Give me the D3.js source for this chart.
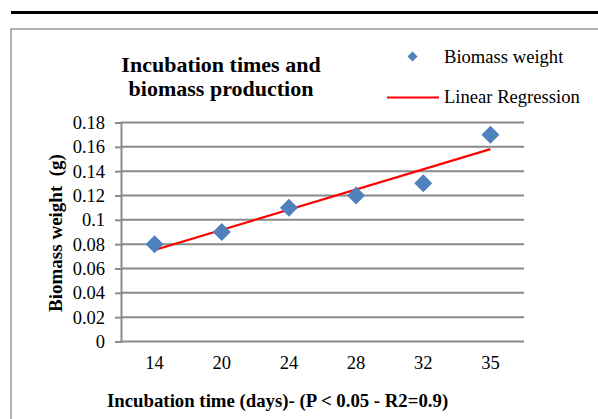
<!DOCTYPE html>
<html><head><meta charset="utf-8">
<script src="https://cdn.jsdelivr.net/npm/d3@7"></script>
<style>body{margin:0;background:#fff}svg{display:block}text{font-family:"Liberation Serif","Times New Roman",serif;fill:#000}</style>
</head><body>
<script>
const categories = ["14","20","24","28","32","35"];
const biomass = [0.08, 0.09, 0.11, 0.12, 0.13, 0.17];
const regression = [{c:"14", v:0.0752}, {c:"35", v:0.1581}];
const yTicks = [0,0.02,0.04,0.06,0.08,0.1,0.12,0.14,0.16,0.18];

const W=598,H=419;
const svg=d3.select("body").append("svg").attr("width",W).attr("height",H);

// page rule and chart frame
svg.append("line").attr("x1",11).attr("x2",W).attr("y1",12.5).attr("y2",12.5).attr("stroke","#000").attr("stroke-width",3);
svg.append("rect").attr("x",11).attr("y",29).attr("width",W).attr("height",H).attr("fill","none").attr("stroke","#999").attr("stroke-width",1.5);

const x=d3.scaleBand().domain(categories).range([121,524]);
const y=d3.scaleLinear().domain([0,0.18]).range([341.5,122.5]);

// gridlines
svg.append("g").selectAll("line").data(yTicks.filter(d=>d>0)).join("line")
 .attr("x1",121).attr("x2",524).attr("y1",d=>y(d)).attr("y2",d=>y(d))
 .attr("stroke","#8a8a8a").attr("stroke-width",2);

// y axis
const yAx=svg.append("g").attr("transform","translate(121,0)")
 .call(d3.axisLeft(y).tickValues(yTicks).tickSize(6).tickPadding(10).tickFormat(d=>String(+d.toFixed(2))));
yAx.select(".domain").attr("stroke","#8a8a8a").attr("stroke-width",2);
yAx.selectAll(".tick line").attr("stroke","#8a8a8a").attr("stroke-width",2);
yAx.selectAll("text").attr("font-size",18.5).attr("font-family","Liberation Serif");

// x axis
const xAx=svg.append("g").attr("transform","translate(0,341.5)")
 .call(d3.axisBottom(x).tickSize(0).tickPadding(14));
xAx.select(".domain").attr("stroke","#8a8a8a").attr("stroke-width",2).attr("d","M121,0H524");
xAx.selectAll("text").attr("font-size",18.5).attr("font-family","Liberation Serif");

// regression line
const cx=c=>x(c)+x.bandwidth()/2;
svg.append("path").datum(regression)
 .attr("d",d3.line().x(d=>cx(d.c)).y(d=>y(d.v)))
 .attr("stroke","#ff0000").attr("stroke-width",2.2).attr("fill","none");

// markers
svg.append("g").selectAll("path").data(biomass).join("path")
 .attr("transform",(d,i)=>`translate(${cx(categories[i])},${y(d)})`)
 .attr("d","M0,-9L9,0L0,9L-9,0Z").attr("fill","#4f81bd");

// title
const t=svg.append("text").attr("text-anchor","middle").attr("font-weight","bold").attr("font-size",22);
t.append("tspan").attr("x",221).attr("y",71.5).text("Incubation times and");
t.append("tspan").attr("x",221).attr("y",96).text("biomass production");

// axis titles
svg.append("text").attr("x",107).attr("y",407).attr("font-weight","bold").attr("font-size",18.8)
 .text("Incubation time (days)- (P < 0.05 - R2=0.9)");
svg.append("text").attr("transform","translate(62,233) rotate(-90)").attr("text-anchor","middle")
 .attr("font-weight","bold").attr("font-size",19).style("white-space","pre").text("Biomass weight  (g)");

// legend
svg.append("path").attr("transform","translate(412.5,56.5)").attr("d","M0,-5L5,0L0,5L-5,0Z").attr("fill","#4f81bd");
svg.append("text").attr("x",444).attr("y",63).attr("font-size",18.6).text("Biomass weight");
svg.append("line").attr("x1",387).attr("x2",439).attr("y1",97.5).attr("y2",97.5).attr("stroke","#ff0000").attr("stroke-width",2);
svg.append("text").attr("x",444).attr("y",103).attr("font-size",18.6).text("Linear Regression");
</script>
</body></html>
